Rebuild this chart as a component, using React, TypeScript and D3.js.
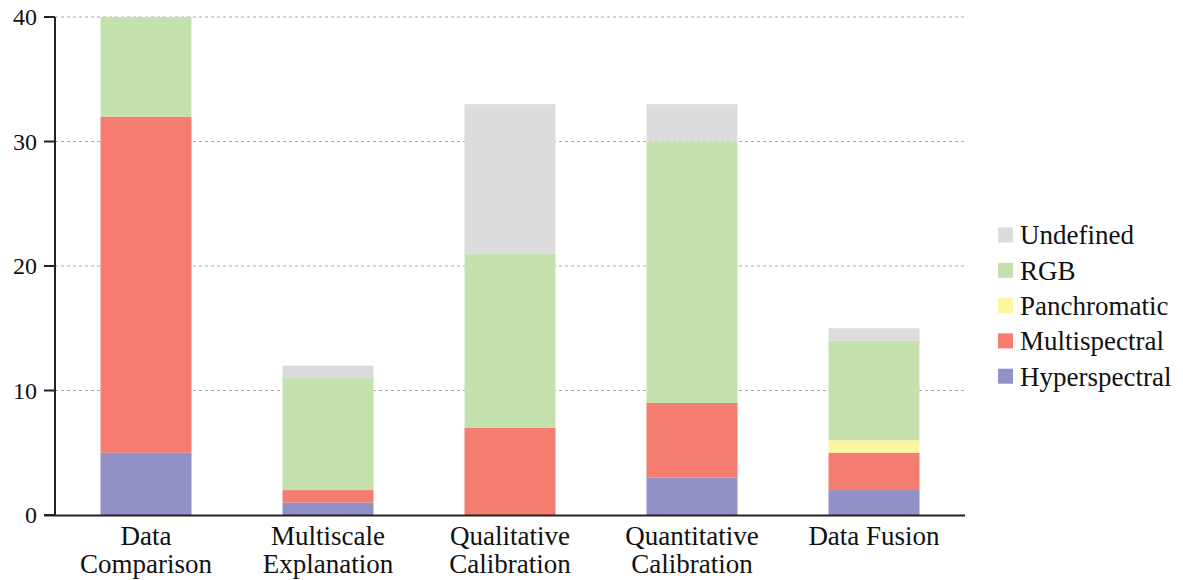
import React from "react";
import * as d3 from "d3";

const categories = [
  ["Data", "Comparison"],
  ["Multiscale", "Explanation"],
  ["Qualitative", "Calibration"],
  ["Quantitative", "Calibration"],
  ["Data Fusion"],
];
const seriesNames = ["Hyperspectral", "Multispectral", "Panchromatic", "RGB", "Undefined"];
const hyperspectral = [5, 1, 0, 3, 2];
const multispectral = [27, 1, 7, 6, 3];
const panchromatic = [0, 0, 0, 0, 1];
const rgb = [8, 9, 14, 21, 8];
const undefinedVals = [0, 1, 12, 3, 1];
const yTicks = [0, 10, 20, 30, 40];
const colors = ["#9191c8", "#f47c70", "#fdf5a0", "#c3e0ad", "#dcdcdc"];

const W = 1183, H = 580;
const FONT = "'Liberation Serif', serif";

export default function App() {
  const values = [hyperspectral, multispectral, panchromatic, rgb, undefinedVals];
  const rows = categories.map((c, i) => {
    const r: any = { key: c.join(" ") };
    seriesNames.forEach((s, j) => (r[s] = values[j][i]));
    return r;
  });
  const stack = d3.stack().keys(seriesNames)(rows);
  const x = d3.scaleBand().domain(rows.map((r) => r.key)).range([55, 965]).paddingInner(0.5).paddingOuter(0.25);
  const y = d3.scaleLinear().domain([0, 40]).range([515, 17]);
  const legendOrder = [...seriesNames].reverse();
  return (
    <svg width={W} height={H} style={{ position: "absolute", left: 0, top: 0, background: "#fff" }} fontFamily={FONT}>
      {yTicks.filter((t) => t > 0).map((t) => (
        <line key={t} x1={55} x2={965} y1={y(t)} y2={y(t)} stroke="#aaa" strokeWidth={1} strokeDasharray="3,3" />
      ))}
      {stack.map((layer, j) => (
        <g key={layer.key} fill={colors[j]}>
          {layer.map((d, i) =>
            d[1] - d[0] > 0 ? (
              <rect key={i} x={x(rows[i].key)} width={x.bandwidth()} y={y(d[1])} height={y(d[0]) - y(d[1])} />
            ) : null
          )}
        </g>
      ))}
      <line x1={55} x2={55} y1={17} y2={516} stroke="#222" strokeWidth={2} />
      <line x1={44} x2={965} y1={515.5} y2={515.5} stroke="#222" strokeWidth={2} />
      {yTicks.map((t) => (
        <g key={t}>
          <line x1={44} x2={55} y1={y(t)} y2={y(t)} stroke="#222" strokeWidth={2} />
          <text x={37} y={y(t)} dy="0.35em" textAnchor="end" fontSize={24} fill="#111">{t}</text>
        </g>
      ))}
      {categories.map((c, i) => (
        <text key={i} x={x(rows[i].key)! + x.bandwidth() / 2} y={545} textAnchor="middle" fontSize={27} fill="#111">
          {c.map((l, k) => (
            <tspan key={k} x={x(rows[i].key)! + x.bandwidth() / 2} dy={k === 0 ? 0 : 28}>{l}</tspan>
          ))}
        </text>
      ))}
      {legendOrder.map((s, k) => {
        const ly = 235 + k * 35.3;
        return (
          <g key={s}>
            <rect x={998} y={ly - 7.5} width={15} height={15} fill={colors[seriesNames.indexOf(s)]} />
            <text x={1020} y={ly} dy="0.35em" fontSize={27} fill="#111">{s}</text>
          </g>
        );
      })}
    </svg>
  );
}
